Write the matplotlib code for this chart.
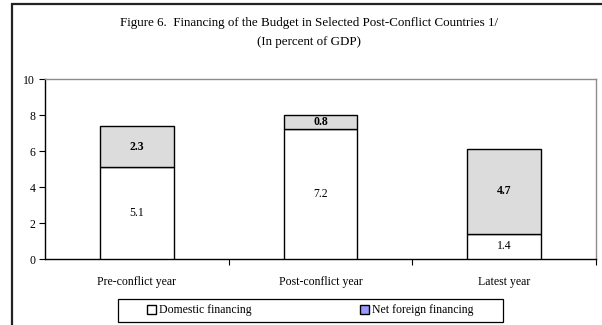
import matplotlib
matplotlib.use("Agg")
import matplotlib.pyplot as plt
from matplotlib.patches import Rectangle, Patch

categories = ["Pre-conflict year", "Post-conflict year", "Latest year"]
domestic = [5.1, 7.2, 1.4]
foreign = [2.3, 0.8, 4.7]
yticks = [0, 2, 4, 6, 8, 10]

plt.rcParams['font.family'] = ['Liberation Serif', 'DejaVu Serif']

W, H = 602, 325
fig = plt.figure(figsize=(W/100, H/100), dpi=100)

def fx(px): return px / W
def fy(py): return 1 - py / H

# outer frame (extends beyond the image at right and bottom)
fig.patches.append(Rectangle((fx(12), fy(345)), fx(615) - fx(12), fy(4) - fy(345),
                             transform=fig.transFigure, fill=False, edgecolor='#222222',
                             linewidth=1.6, clip_on=False))

ax = fig.add_axes([fx(45), fy(259), fx(596) - fx(45), fy(79) - fy(259)])
x = list(range(len(categories)))
w = 0.40
ax.bar(x, domestic, width=w, color='white', edgecolor='black', linewidth=1.0, zorder=3)
ax.bar(x, foreign, width=w, bottom=domestic, color='#dcdcdc', edgecolor='black',
       linewidth=1.0, zorder=3)

for i in x:
    ax.text(i, domestic[i] / 2, f"{domestic[i]:.1f}", ha='center', va='center', fontsize=8.5, zorder=4)
    ax.text(i, domestic[i] + foreign[i] / 2, f"{foreign[i]:.1f}", ha='center', va='center',
            fontsize=8.5, fontweight='bold', zorder=4)

ax.set_xlim(-0.5, 2.5)
ax.set_ylim(0, 10)
ax.set_yticks(yticks)
ax.set_yticklabels([str(v) for v in yticks], fontsize=8.5)
ax.set_xticks([0.5, 1.5, 2.5])
ax.set_xticklabels([])
ax.set_xticks(x, minor=True)
ax.set_xticklabels(categories, minor=True, fontsize=8.5)
ax.tick_params(axis='x', which='minor', length=0, pad=12)
ax.tick_params(axis='x', which='major', length=4, direction='out', width=0.8)
ax.tick_params(axis='y', length=4, direction='out', width=0.8, pad=3)
ax.spines['left'].set_color('black')
ax.spines['bottom'].set_color('black')
ax.spines['top'].set_color('#8c8c8c')
ax.spines['right'].set_color('#8c8c8c')
for s in ax.spines.values():
    s.set_linewidth(1.0)

fig.text(fx(309), fy(23), "Figure 6.  Financing of the Budget in Selected Post-Conflict Countries 1/",
         ha='center', va='center', fontsize=9.4)
fig.text(fx(309), fy(42), "(In percent of GDP)", ha='center', va='center', fontsize=9.4)

# legend frame
fig.patches.append(Rectangle((fx(118), fy(322)), fx(503) - fx(118), fy(299) - fy(322),
                             transform=fig.transFigure, fill=True, facecolor='white',
                             edgecolor='black', linewidth=0.9, zorder=1))
handles = [Patch(facecolor='white', edgecolor='black', label='Domestic financing'),
           Patch(facecolor='#9999ff', edgecolor='black', label='Net foreign financing')]
leg = fig.legend(handles=handles, loc='center', bbox_to_anchor=(fx(310), fy(310.5)), ncol=2,
                 frameon=False, fontsize=8.5, handlelength=0.8, handleheight=0.8,
                 handletextpad=0.2, columnspacing=9.2, borderpad=0.0)
leg.set_zorder(5)

fig.savefig("out.png", dpi=100)
